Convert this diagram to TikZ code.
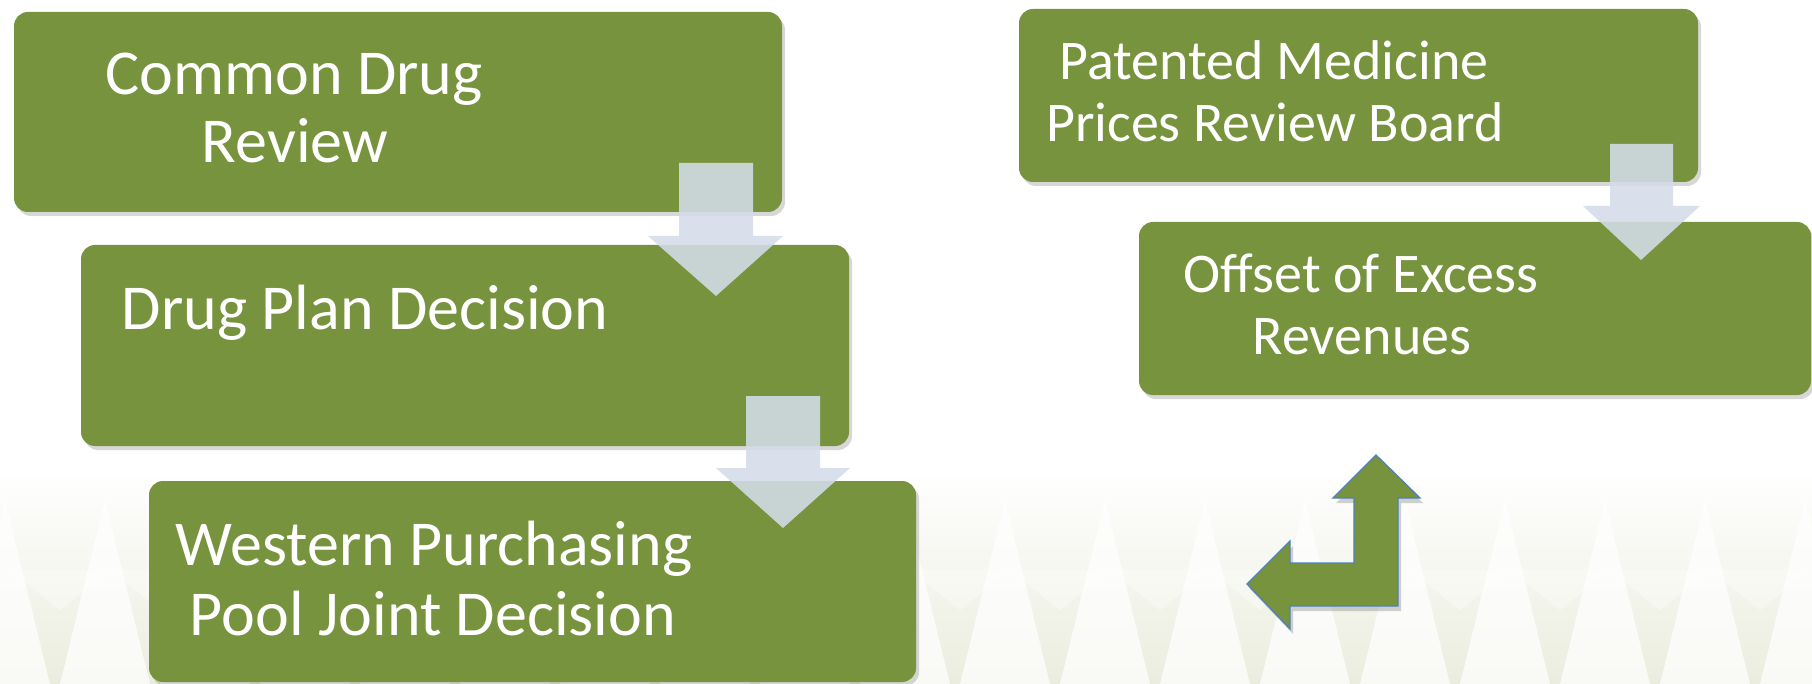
\documentclass[tikz,border=0pt]{standalone}
\usepackage{fontspec}
\setmainfont{Carlito}
\usetikzlibrary{shadows}
\definecolor{gboxc}{RGB}{119,147,61}
\definecolor{arrowc}{RGB}{212,220,234}
\definecolor{bentline}{RGB}{79,129,189}
\definecolor{bgpale}{RGB}{234,237,222}
\tikzset{
  gbox/.style={rectangle, rounded corners=14pt, fill=gboxc, inner sep=0pt,
    drop shadow={shadow xshift=3pt, shadow yshift=-4pt, opacity=0.22, fill=black!70}},
  bigtxt/.style={text=white, inner sep=0pt, anchor=base, font=\fontsize{64}{70}\selectfont},
  medtxt/.style={text=white, inner sep=0pt, anchor=base, font=\fontsize{56}{62}\selectfont},
  blockarrow/.style={fill=arrowc, fill opacity=0.88, draw=none},
  bentarrow/.style={fill=gboxc, draw=bentline, line width=1.3pt, line join=miter},
  bentshadow/.style={fill=black!45, opacity=0.4},
}
\begin{document}
\begin{tikzpicture}[x=1pt, y=-1pt]
\useasboundingbox (0,0) rectangle (1812,684);
\fill[white] (0,0) rectangle (1812,684);
% faint background pattern
\shade[top color=white, bottom color=bgpale] (0,470) rectangle (1812,684);
\foreach \x in {-40,60,160,260,360,460,560,660,760,860,960,1060,1160,1260,1360,1460,1560,1660,1760}{
  \fill[white, opacity=0.75] (\x,684) -- (\x+45,500) -- (\x+90,684) -- cycle;
}
\foreach \x in {10,110,210,310,410,510,610,710,810,910,1010,1110,1210,1310,1410,1510,1610,1710}{
  \fill[white, opacity=0.35] (\x,570) -- (\x+50,610) -- (\x+100,570) -- cycle;
}
% boxes
\node[gbox, minimum width=768pt, minimum height=200pt] (b1) at (398,112) {};
\node[gbox, minimum width=768pt, minimum height=201pt] (b2) at (465,345.5) {};
\node[gbox, minimum width=767pt, minimum height=201pt] (b3) at (532.5,581.5) {};
\node[gbox, minimum width=679pt, minimum height=173pt] (b4) at (1358.5,95.5) {};
\node[gbox, minimum width=672pt, minimum height=173pt] (b5) at (1475,308.5) {};
% texts
\node[bigtxt] (t1a) at (294,95) {Common Drug};
\node[bigtxt] (t1b) at (295,163) {Review};
\node[bigtxt] (t2a) at (365,330) {Drug Plan Decision};
\node[bigtxt] (t3a) at (434,565) {Western Purchasing};
\node[bigtxt] (t3b) at (433,635) {Pool Joint Decision};
\node[medtxt] (t4a) at (1274,80) {Patented Medicine};
\node[medtxt] (t4b) at (1275,142) {Prices Review Board};
\node[medtxt] (t5a) at (1361,293) {Offset of Excess};
\node[medtxt] (t5b) at (1362,355) {Revenues};
% down block arrows
\path[blockarrow] (679,163) -- (753,163) -- (753,236) -- (783,236) -- (716,296) -- (648,236) -- (679,236) -- cycle;
\path[blockarrow] (746,396) -- (820,396) -- (820,468) -- (850,468) -- (783,528) -- (716,468) -- (746,468) -- cycle;
\path[blockarrow] (1610,144) -- (1673,144) -- (1673,206) -- (1700,206) -- (1641,260) -- (1583,206) -- (1610,206) -- cycle;
% bent arrow
\path[bentshadow, shift={(3,5)}] (1376,455) -- (1420,498) -- (1398,498) -- (1398,606) -- (1290,606) -- (1290,629) -- (1247,584) -- (1290,541) -- (1290,563) -- (1354,563) -- (1354,498) -- (1333,498) -- cycle;
\path[bentarrow] (1376,455) -- (1420,498) -- (1398,498) -- (1398,606) -- (1290,606) -- (1290,629) -- (1247,584) -- (1290,541) -- (1290,563) -- (1354,563) -- (1354,498) -- (1333,498) -- cycle;
\end{tikzpicture}
\end{document}
